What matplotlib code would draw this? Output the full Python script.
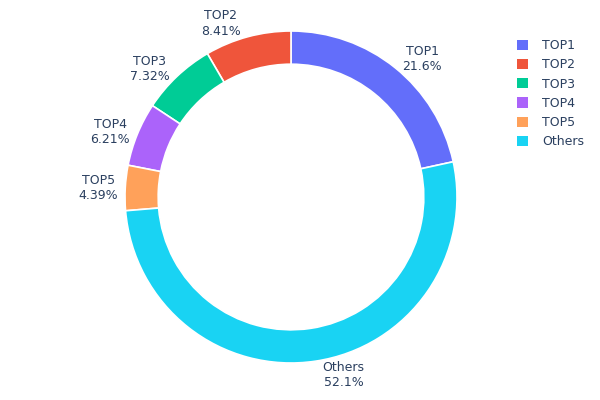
import matplotlib
matplotlib.use("Agg")
import matplotlib.pyplot as plt
from matplotlib.patches import Patch
import numpy as np

labels = ["TOP1", "TOP2", "TOP3", "TOP4", "TOP5", "Others"]
shares = [21.6, 8.41, 7.32, 6.21, 4.39, 52.1]
pct_text = ["21.6%", "8.41%", "7.32%", "6.21%", "4.39%", "52.1%"]
colors = ["#636efa", "#EF553B", "#00cc96", "#ab63fa", "#FFA15A", "#19d3f3"]

W, H = 600, 400
cx, cy = 291, 197      # centre in screen pixels (y down)
R = 166
hole = 0.8
txt_color = "#2a3f5f"

fig = plt.figure(figsize=(6, 4), dpi=100)
ax = fig.add_axes([0, 0, 1, 1])

total = sum(shares)
start = 90 - shares[0] / total * 360
wedges, _ = ax.pie(shares, colors=colors, startangle=start, counterclock=True,
                   radius=R, center=(cx, H - cy),
                   wedgeprops=dict(width=R * (1 - hole), edgecolor="white", linewidth=1.2))
ax.set_xlim(0, W)
ax.set_ylim(0, H)
ax.set_aspect("auto")
ax.axis("off")

# outside labels, placed the plotly way
fig.canvas.draw()
renderer = fig.canvas.get_renderer()
for w, lab, pt in zip(wedges, labels, pct_text):
    mid = np.deg2rad((w.theta1 + w.theta2) / 2)
    px = R * np.cos(mid)
    py = -R * np.sin(mid)
    t = ax.text(0, 0, lab + "\n" + pt, ha="center", va="center", multialignment="center",
                fontsize=9, color=txt_color, linespacing=1.25)
    bb = t.get_window_extent(renderer)
    dx = bb.width / 2
    dy = bb.height / 2
    if px < 0:
        dx = -dx
    if py < 0:
        dy = -dy
    ox = dx + abs(dy) * (1 if dx > 0 else -1) / 2
    oy = dy / (1 + px * px / (py * py))
    t.set_position((cx + px + ox, H - (cy + py + oy)))

handles = [Patch(facecolor=c, edgecolor="none") for c in colors]
leg = ax.legend(handles, labels, loc="upper left", bbox_to_anchor=(512 / W, 1 - 34 / H),
                frameon=False, fontsize=9, handlelength=0.9, handleheight=0.9,
                handletextpad=1.1, labelspacing=0.5, borderaxespad=0)
for t in leg.get_texts():
    t.set_color(txt_color)

fig.savefig("out.png", dpi=100)
